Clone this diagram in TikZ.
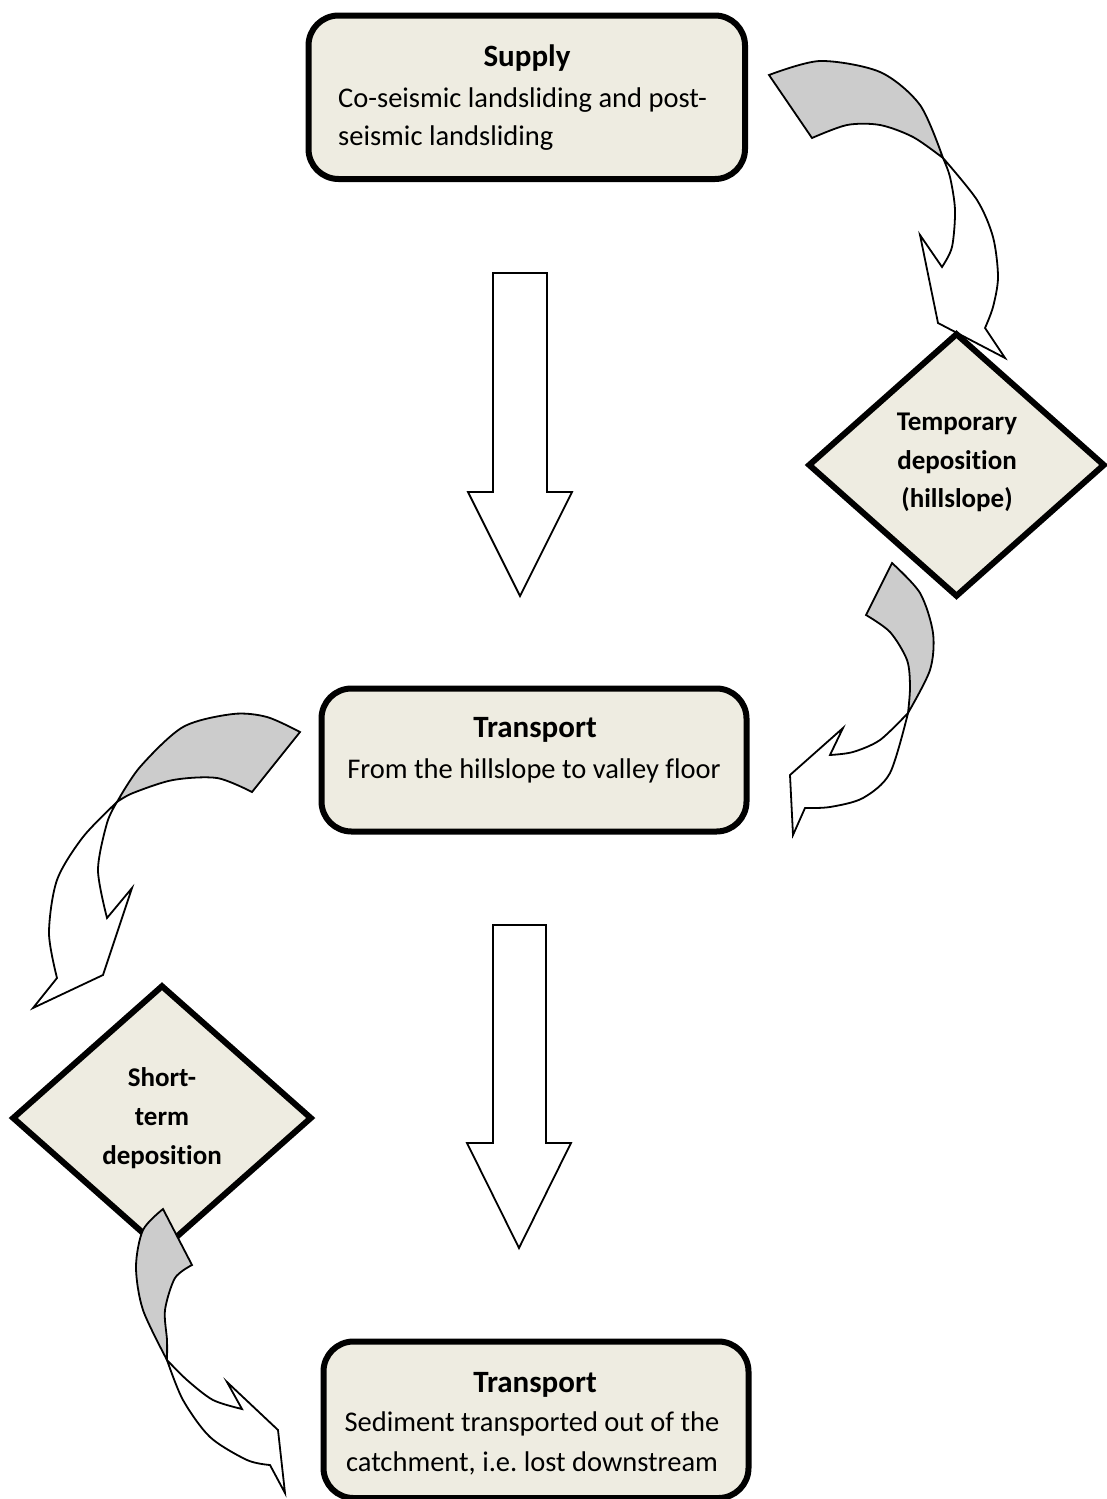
\documentclass[tikz,border=0pt]{standalone}
\usepackage{fontspec}
\setmainfont{Carlito}[Ligatures=NoCommon]
\usetikzlibrary{shapes.geometric}
\definecolor{boxfill}{HTML}{EEECE1}
\definecolor{twist}{HTML}{CCCCCC}
\frenchspacing
\tikzset{
  procbox/.style={rectangle, draw=black, line width=6pt, fill=boxfill, rounded corners=30pt, inner sep=0pt},
  decbox/.style={diamond, draw=black, line width=6pt, fill=boxfill, inner sep=0pt, line join=miter},
  titletext/.style={font=\bfseries\fontsize{31}{37}\selectfont, inner sep=0pt},
  bodytext/.style={font=\fontsize{28.5}{34}\selectfont, inner sep=0pt},
  dectext/.style={font=\bfseries\fontsize{27}{33}\selectfont, inner sep=0pt},
  backpart/.style={draw=black, line width=1.8pt, fill=twist, line join=miter},
  frontpart/.style={draw=black, line width=1.8pt, fill=white, line join=miter},
  blockarrow/.style={draw=black, line width=1.8pt, fill=white, line join=miter}
}
\begin{document}
\begin{tikzpicture}[x=1pt,y=-1pt]
\useasboundingbox (0,0) rectangle (1106,1499);

% curved arrow: Supply -> Temporary deposition
\filldraw[backpart] plot[smooth] coordinates {(769,75) (820,61) (880,72) (920,105) (943,158)}
  -- plot[smooth] coordinates {(943,158) (913,137) (880,125) (847,125) (812,138)} -- cycle;
\filldraw[frontpart] plot[smooth] coordinates {(943,158) (977,200) (993,237) (998,277) (993,307) (985,328)}
  -- (1005,358) -- (938,323) -- (920,235) -- (942,267)
  -- plot[smooth] coordinates {(942,267) (952,247) (955,210) (950,177) (943,158)} -- cycle;

% curved arrow: Temporary deposition -> Transport
\filldraw[backpart] plot[smooth] coordinates {(892,563) (920,593) (933,633) (930,670) (908,713)}
  -- plot[smooth] coordinates {(908,713) (910,687) (907,660) (890,632) (866,615)} -- cycle;
\filldraw[frontpart] plot[smooth] coordinates {(908,713) (880,740) (853,752) (830,755)}
  -- (843,728) -- (790,775) -- (793,835) -- (805,808)
  -- plot[smooth] coordinates {(805,808) (830,807) (863,798) (890,773) (908,713)} -- cycle;

% curved arrow: Transport -> Short-term deposition
\filldraw[backpart] plot[smooth] coordinates {(300,732) (267,717) (233,714) (183,727) (140,767) (117,802)}
  -- plot[smooth] coordinates {(117,802) (133,793) (173,780) (217,778) (252,792)} -- cycle;
\filldraw[frontpart] plot[smooth] coordinates {(117,802) (83,837) (57,880) (49,933) (57,978)}
  -- (33,1008) -- (103,975) -- (132,888) -- (107,918)
  -- plot[smooth] coordinates {(107,918) (98,870) (107,823) (117,802)} -- cycle;

% straight block arrows
\draw[blockarrow] (493,273) -- (547,273) -- (547,492) -- (572,492) -- (520,596) -- (468,492) -- (493,492) -- cycle;
\draw[blockarrow] (493,925) -- (546,925) -- (546,1143) -- (571,1143) -- (519,1248) -- (467,1143) -- (493,1143) -- cycle;

% boxes
\node[procbox, minimum width=436.5pt, minimum height=163.5pt] (supply) at (526.75,97.25) {};
\node[titletext, anchor=base] (supplyT) at (527,66) {Supply};
\node[bodytext, anchor=base west] (supplyA) at (338,107) {Co-seismic landsliding and post-};
\node[bodytext, anchor=base west] (supplyB) at (338,145) {seismic landsliding};

\node[procbox, minimum width=425pt, minimum height=143pt] (trans1) at (534,760) {};
\node[titletext, anchor=base] (trans1T) at (535,737) {Transport};
\node[bodytext, anchor=base] (trans1A) at (534,778) {From the hillslope to valley floor};

\node[procbox, minimum width=425pt, minimum height=156.5pt] (trans2) at (536,1419.75) {};
\node[titletext, anchor=base] (trans2T) at (535,1392) {Transport};
\node[bodytext, anchor=base] (trans2A) at (532,1431) {Sediment transported out of the};
\node[bodytext, anchor=base] (trans2B) at (532,1471) {catchment, i.e. lost downstream};

% diamonds
\node[decbox, minimum width=297pt, minimum height=264pt] (temp) at (956.5,465) {};
\node[dectext, anchor=base] (tempA) at (957,430) {Temporary};
\node[dectext, anchor=base] (tempB) at (957,469) {deposition};
\node[dectext, anchor=base] (tempC) at (957,507) {(hillslope)};

\node[decbox, minimum width=300pt, minimum height=266pt] (short) at (162,1118) {};
\node[dectext, anchor=base] (shortA) at (162,1086) {Short-};
\node[dectext, anchor=base] (shortB) at (162,1125) {term};
\node[dectext, anchor=base] (shortC) at (162,1164) {deposition};

% curved arrow: Short-term deposition -> Transport (downstream)
\filldraw[backpart] plot[smooth] coordinates {(163,1209) (143,1230) (136,1267) (143,1310) (167,1360)}
  -- plot[smooth] coordinates {(167,1360) (167,1340) (165,1310) (175,1278) (192,1265)} -- cycle;
\filldraw[frontpart] plot[smooth] coordinates {(167,1360) (187,1380) (213,1400) (242,1409)}
  -- (227,1382) -- (278,1430) -- (285,1493) -- (270,1465)
  -- plot[smooth] coordinates {(270,1465) (247,1460) (210,1437) (183,1400) (167,1360)} -- cycle;
\end{tikzpicture}
\end{document}
